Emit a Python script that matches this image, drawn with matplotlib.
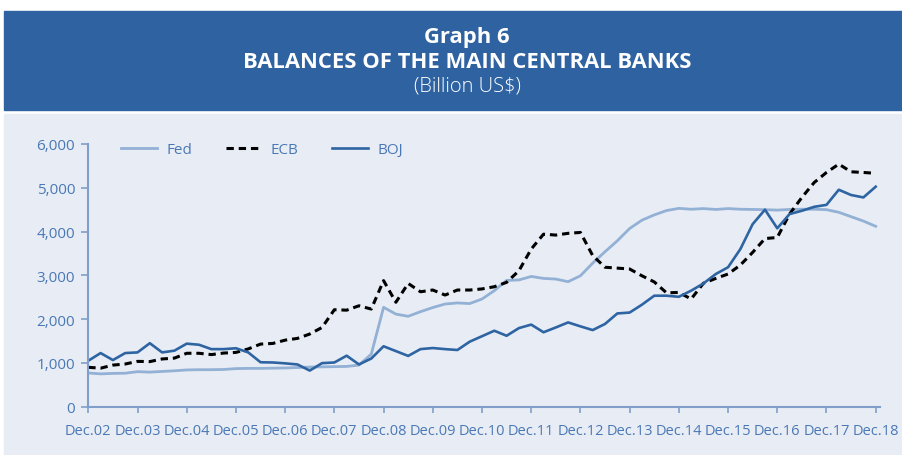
import matplotlib
matplotlib.use("Agg")
import matplotlib.pyplot as plt
from matplotlib.patches import Rectangle
from matplotlib.ticker import FuncFormatter, FixedLocator

plt.rcParams["font.family"] = ["Open Sans", "DejaVu Sans"]

# quarterly balances, Dec.02 .. Dec.18 (billion US$)
fed = [770, 750, 760, 765, 800, 790, 805, 820, 840, 845, 845, 850,
       870, 875, 875, 880, 885, 895, 905, 910, 915, 920, 950, 1200,
       2270, 2115, 2065, 2170, 2265, 2345, 2370, 2355, 2460, 2650, 2885, 2895,
       2975, 2930, 2915, 2855, 2990, 3280, 3540, 3790, 4070, 4260, 4380, 4480,
       4530, 4510, 4525, 4505, 4525, 4510, 4505, 4500, 4490, 4505, 4510, 4510,
       4500, 4440, 4340, 4240, 4120]
ecb = [900, 880, 950, 975, 1035, 1030, 1090, 1110, 1220, 1220, 1190, 1225,
       1240, 1320, 1430, 1445, 1520, 1560, 1660, 1810, 2215, 2205, 2305, 2230,
       2880, 2385, 2815, 2625, 2665, 2550, 2665, 2665, 2690, 2740, 2840, 3105,
       3600, 3940, 3920, 3960, 3980, 3450, 3185, 3165, 3145, 2990, 2850, 2600,
       2610, 2460, 2820, 2930, 3030, 3235, 3525, 3840, 3865, 4400, 4780, 5120,
       5350, 5540, 5365, 5350, 5330]
boj = [1050, 1225, 1065, 1225, 1240, 1450, 1240, 1280, 1440, 1415, 1315, 1315,
       1335, 1240, 1015, 1010, 990, 965, 825, 995, 1010, 1165, 965, 1100,
       1380, 1270, 1160, 1315, 1340, 1315, 1295, 1485, 1610, 1735, 1620, 1795,
       1875, 1700, 1810, 1925, 1835, 1750, 1890, 2130, 2150, 2330, 2535, 2535,
       2510, 2650, 2815, 3030, 3185, 3600, 4170, 4500, 4075, 4400, 4475, 4565,
       4610, 4955, 4835, 4780, 5025]
years = ["Dec.%02d" % y for y in range(2, 19)]
yticks = [0, 1000, 2000, 3000, 4000, 5000, 6000]

band_col = "#2e62a0"
panel_col = "#e8edf5"
text_col = "#4a78b5"
spine_col = "#7f9fca"

fig = plt.figure(figsize=(9.02, 4.56), dpi=100)
fig.add_artist(Rectangle((4 / 902, (456 - 110.7) / 456), 898 / 902, 98.7 / 456,
                         transform=fig.transFigure, color=band_col, zorder=-2))
fig.add_artist(Rectangle((4 / 902, 0), 898 / 902, (456 - 115) / 456,
                         transform=fig.transFigure, color=panel_col, zorder=-2))

fig.text(0.518, (456 - 37) / 456, "Graph 6", color="white", fontsize=15.8,
         fontweight="bold", ha="center", va="center")
fig.text(0.518, (456 - 62) / 456, "BALANCES OF THE MAIN CENTRAL BANKS", color="white",
         fontsize=15.8, fontweight="bold", ha="center", va="center")
fig.text(0.518, (456 - 87) / 456, "(Billion US$)", color="white", fontsize=14.5,
         fontweight="light", ha="center", va="center")

ax = fig.add_axes([88.3 / 902, 48.3 / 456, (880 - 88.3) / 902, (407.7 - 145) / 456])
ax.set_zorder(1)
ax.patch.set_alpha(0)

x = list(range(len(fed)))
ax.plot(x, fed, color="#93b0d5", lw=2.0, label="Fed")
ax.plot(x, ecb, color="black", lw=2.2, dashes=(2.4, 1.6), label="ECB")
ax.plot(x, boj, color="#2e64a2", lw=1.9, label="BOJ")

ax.set_xlim(0, 64.35)
ax.set_ylim(0, 6000)
ax.xaxis.set_major_locator(FixedLocator(range(0, 65, 4)))
ax.set_xticklabels(years)
ax.set_yticks(yticks)
ax.yaxis.set_major_formatter(FuncFormatter(lambda v, p: f"{int(v):,}"))

for s in ["top", "right"]:
    ax.spines[s].set_visible(False)
for s in ["left", "bottom"]:
    ax.spines[s].set_color(spine_col)
    ax.spines[s].set_linewidth(1.5)
ax.tick_params(axis="y", colors=spine_col, labelcolor=text_col, labelsize=11,
               length=5, width=1.2, pad=4.5)
ax.tick_params(axis="x", colors=spine_col, labelcolor=text_col, labelsize=10.5,
               length=4, width=1.2, pad=7.5)

leg = ax.legend(loc="center left", bbox_to_anchor=(0.0413, 0.978), ncol=3, frameon=False,
                borderpad=0, borderaxespad=0, handlelength=2.35, handletextpad=0.6,
                columnspacing=2.2, fontsize=11)
for t in leg.get_texts():
    t.set_color(text_col)

fig.savefig("out.png", dpi=100)
